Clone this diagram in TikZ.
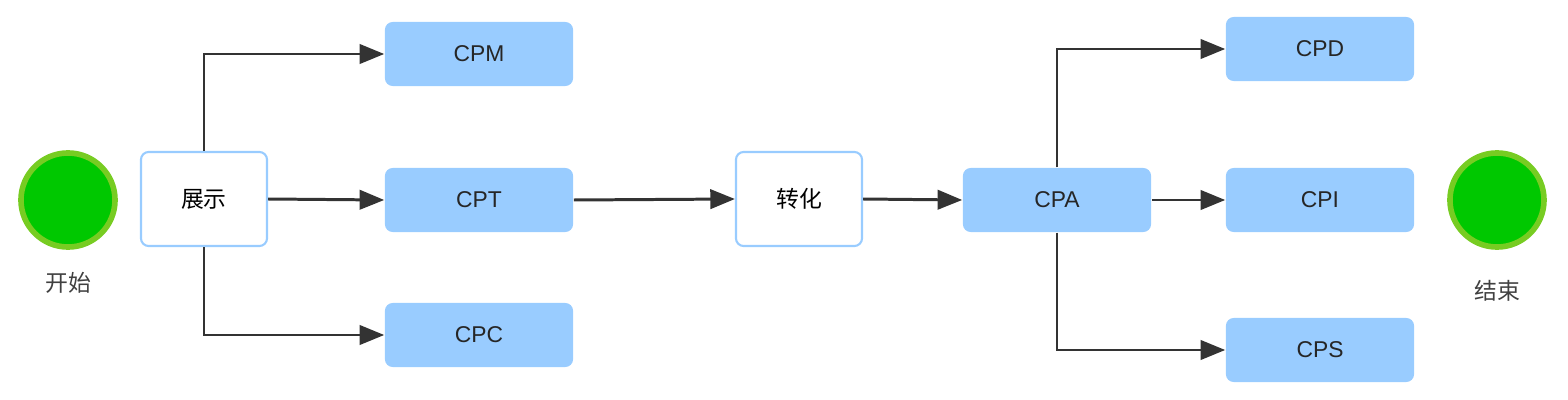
\documentclass[tikz,border=0pt]{standalone}
\usepackage{fontspec}
\setmainfont{Liberation Sans}
\newfontfamily\cjk{Noto Sans CJK SC}
\usetikzlibrary{arrows.meta}
\definecolor{boxblue}{HTML}{99CCFF}
\definecolor{ringgreen}{HTML}{77CC22}
\definecolor{fillgreen}{HTML}{00C800}
\definecolor{lnk}{HTML}{333333}
\begin{document}
\begin{tikzpicture}[x=0.01cm,y=-0.01cm,
  bluebox/.style={rectangle,rounded corners=2.2pt,fill=boxblue,draw=none,minimum width=1.88cm,minimum height=0.64cm,font=\fontsize{6.5}{7}\selectfont,text=black!85},
  whitebox/.style={rectangle,rounded corners=2.2pt,fill=white,draw=boxblue,line width=0.6pt,minimum width=1.26cm,minimum height=0.94cm,font=\cjk\fontsize{6.5}{7}\selectfont},
  endpt/.style={circle,fill=fillgreen,draw=ringgreen,line width=1.6pt,minimum size=0.94cm,inner sep=0pt},
  lbl/.style={font=\cjk\fontsize{6.5}{7}\selectfont,text=black!75},
  link/.style={draw=lnk,line width=0.85pt,-{Triangle[length=7pt,width=5.5pt]}}]
\useasboundingbox (0,0) rectangle (1568,400);
\node[endpt] (start) at (68,200) {};
\node[lbl] (startl) at (68,283) {开始};
\node[whitebox] (show) at (204,199) {展示};
\node[bluebox] (cpm) at (479,54) {CPM};
\node[bluebox] (cpt) at (479,200) {CPT};
\node[bluebox] (cpc) at (479,335) {CPC};
\node[whitebox] (conv) at (799,199) {转化};
\node[bluebox] (cpa) at (1057,200) {CPA};
\node[bluebox] (cpd) at (1320,49) {CPD};
\node[bluebox] (cpi) at (1320,200) {CPI};
\node[bluebox] (cps) at (1320,350) {CPS};
\node[endpt] (end) at (1497,200) {};
\node[lbl] (endl) at (1497,291) {结束};
\draw[link] (show.north) |- (cpm.west);
\draw[link] (show.south) |- (cpc.west);
\draw[link] (show.east) -- (cpt.west);
\draw[link] (cpt.east) -- (conv.west);
\draw[link] (conv.east) -- (cpa.west);
\draw[link] (cpa.north) |- (cpd.west);
\draw[link] (cpa.east) -- (cpi.west);
\draw[link] (cpa.south) |- (cps.west);
\end{tikzpicture}
\end{document}
